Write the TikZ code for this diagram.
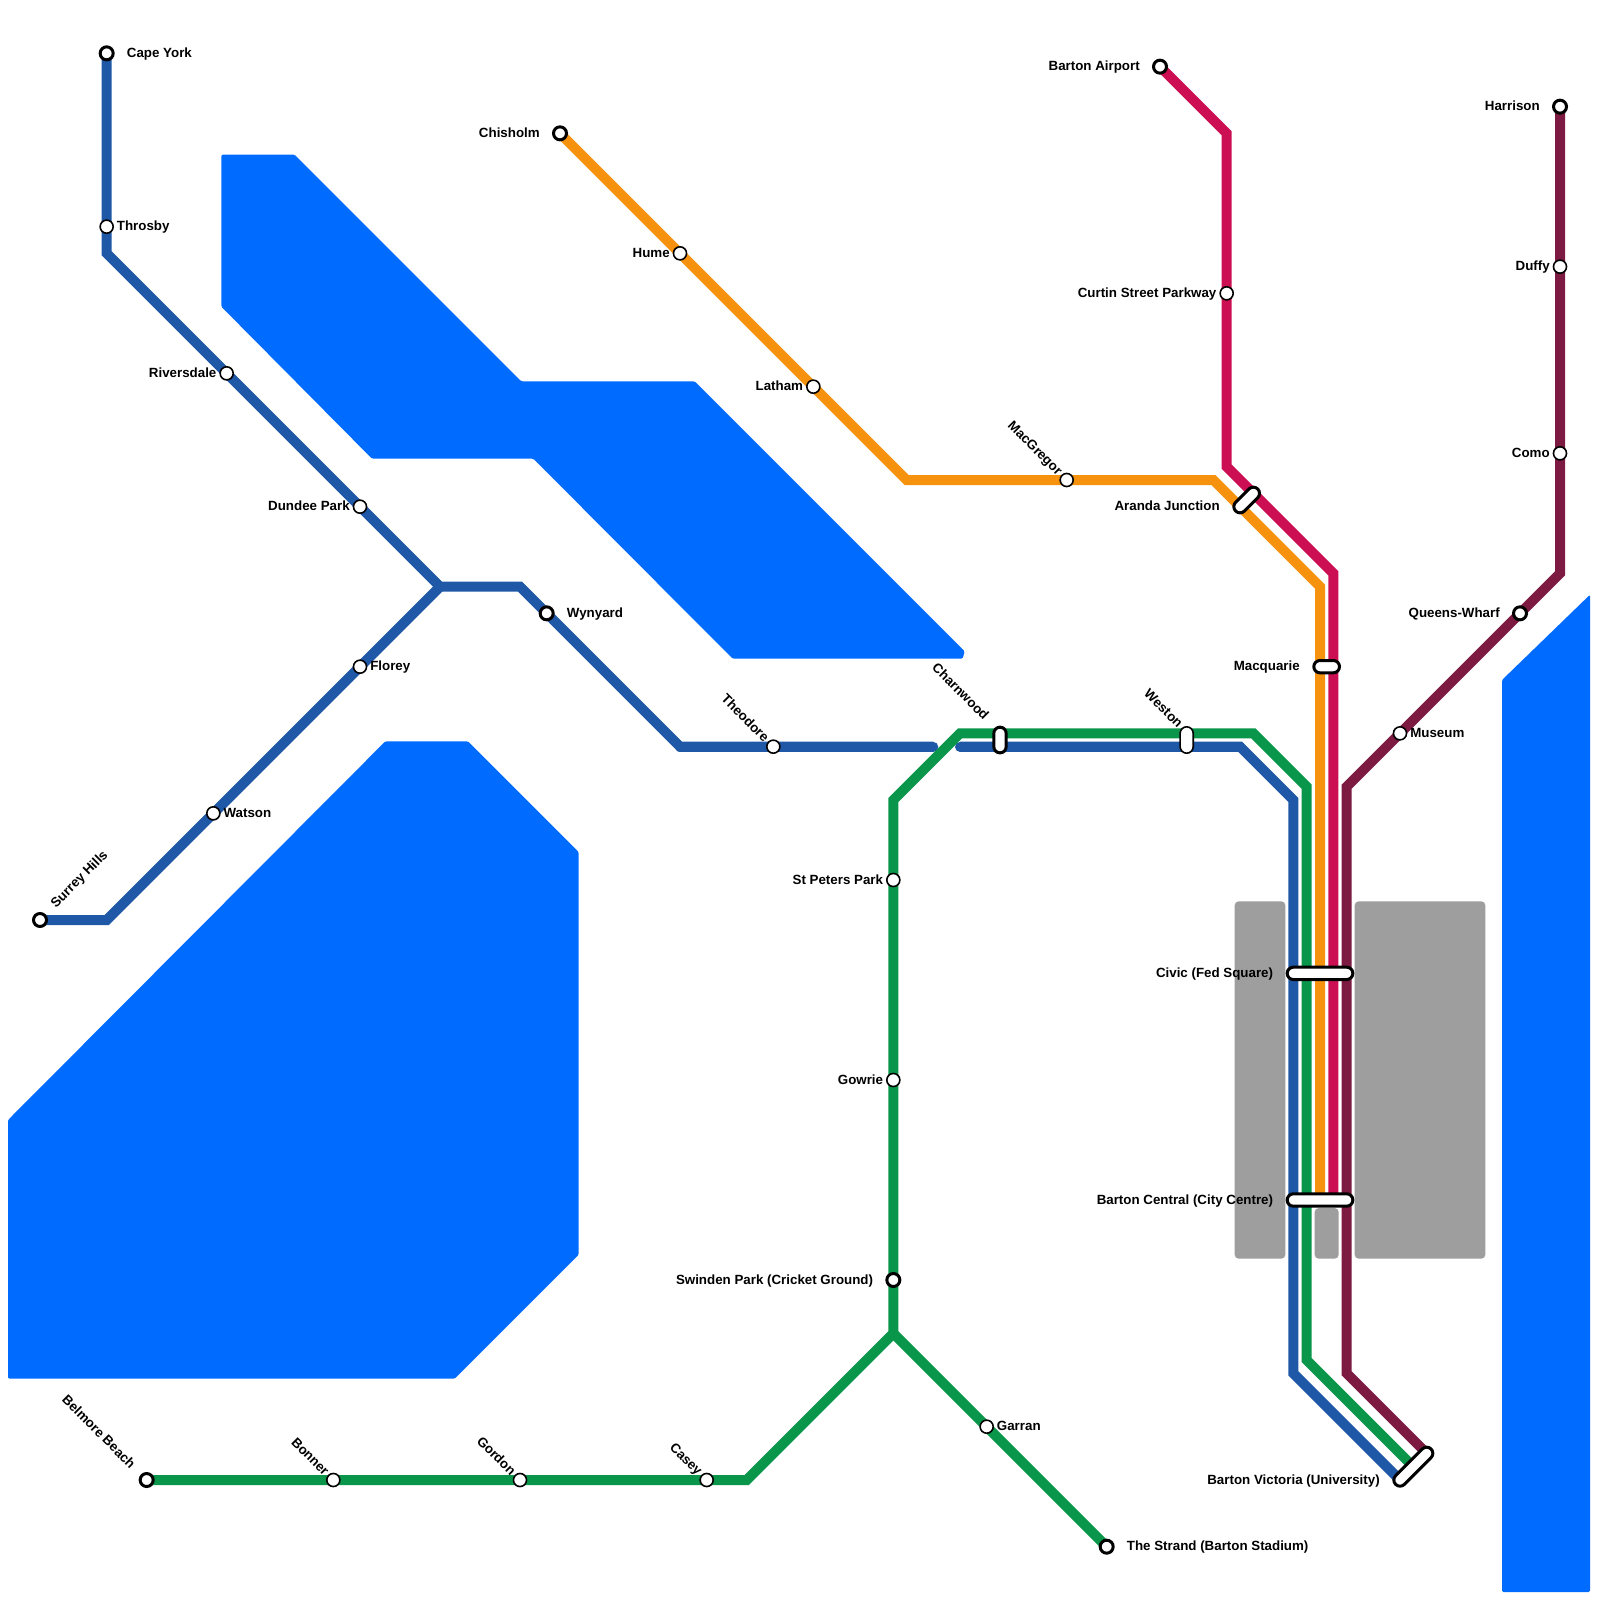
\documentclass[tikz,border=0pt]{standalone}
\usepackage{fontspec}
\setmainfont{Liberation Sans}[BoldFont={Liberation Sans Bold}]
\usetikzlibrary{calc}
\pgfdeclarelayer{bg}\pgfdeclarelayer{lines}
\pgfsetlayers{bg,lines,main}
\definecolor{wat}{HTML}{006CFF}
\definecolor{gry}{HTML}{9E9E9E}
\definecolor{lblue}{HTML}{1F58A6}
\definecolor{lgreen}{HTML}{0A964A}
\definecolor{lorange}{HTML}{F7920F}
\definecolor{lred}{HTML}{CC0F52}
\definecolor{lpurple}{HTML}{7C1A42}
\tikzset{
 water/.style={fill=wat,draw=none,rounded corners=1pt},
 land/.style={fill=gry,draw=none,rounded corners=3pt},
 route/.style={line width=7.5pt,miter limit=10},
 stn/.style={circle,draw=black,fill=white,line width=1.2pt,inner sep=0pt,minimum size=9.8pt},
 term/.style={circle,draw=black,fill=white,line width=2.25pt,inner sep=0pt,minimum size=9.75pt},
 pillb/.style={draw=black,fill=white,line width=2.25pt,inner sep=0pt,rounded corners=4.6pt,minimum height=9.25pt},
 pillt/.style={draw=black,fill=white,line width=1.2pt,inner sep=0pt,rounded corners=4.9pt,minimum height=9.8pt},
 txt/.style={inner sep=0pt,font=\fontsize{10pt}{11pt}\selectfont\bfseries,text=black},
 lr/.style={txt,anchor=mid west,yshift=-.4pt},
 ll/.style={txt,anchor=mid east,yshift=-.4pt},
 lup/.style={txt,anchor=mid west,rotate=45},
 ldn/.style={txt,anchor=mid east,rotate=-45,xshift=.5pt,yshift=-.5pt},
}
\begin{document}
\begin{tikzpicture}[x=10pt,y=-10pt]
\useasboundingbox (0,0) rectangle (120,120);
\begin{pgfonlayer}{bg}
\fill[white] (0,0) rectangle (120,120);
\path[water] (16.6,11.6) -- (22.1,11.6) -- (39.1,28.6) -- (52.1,28.6) -- (72.35,48.85) -- (72.2,49.4) -- (54.95,49.4) -- (40,34.4) -- (27.9,34.4) -- (16.6,23) -- cycle;
\path[water] (28.9,55.6) -- (35.1,55.6) -- (43.4,63.9) -- (43.4,94.1) -- (34.1,103.4) -- (0.6,103.4) -- (0.6,84) -- cycle;
\path[water] (112.65,51) -- (119.25,44.6) -- (119.25,119.4) -- (112.65,119.4) -- cycle;
\path[land] (92.6,67.6) rectangle (96.4,94.4);
\path[land] (98.6,90.6) rectangle (100.4,94.4);
\path[land] (101.6,67.6) rectangle (111.4,94.4);
\end{pgfonlayer}

% stations
\node[term] (capeyork) at (8,4) {};
\node[stn] (throsby) at (8,17) {};
\node[stn] (riversdale) at (17,28) {};
\node[stn] (dundee) at (27,38) {};
\node[stn] (florey) at (27,50) {};
\node[stn] (watson) at (16,61) {};
\node[term] (surrey) at (3,69) {};
\node[term] (wynyard) at (41,46) {};
\node[stn] (theodore) at (58,56) {};
\node[term] (belmore) at (11,111) {};
\node[stn] (bonner) at (25,111) {};
\node[stn] (gordon) at (39,111) {};
\node[stn] (casey) at (53,111) {};
\node[stn] (stpeters) at (67,66) {};
\node[stn] (gowrie) at (67,81) {};
\node[term] (swinden) at (67,96) {};
\node[stn] (garran) at (74,107) {};
\node[term] (strand) at (83,116) {};
\node[term] (chisholm) at (42,10) {};
\node[stn] (hume) at (51,19) {};
\node[stn] (latham) at (61,29) {};
\node[stn] (macgregor) at (80,36) {};
\node[term] (airport) at (87,5) {};
\node[stn] (curtin) at (92,22) {};
\node[term] (harrison) at (117,8) {};
\node[stn] (duffy) at (117,20) {};
\node[stn] (como) at (117,34) {};
\node[term] (queens) at (114,46) {};
\node[stn] (museum) at (105,55) {};
\node[pillb,minimum width=9.25pt+14.14pt,rotate=45] (aranda) at (93.5,37.5) {};
\node[pillb,minimum width=9.25pt+10pt] (macquarie) at (99.5,50) {};
\node[pillb,minimum width=9.25pt+10pt,rotate=90] (charnwood) at (75,55.5) {};
\node[pillt,minimum width=9.8pt+10pt,rotate=90] (weston) at (89,55.5) {};
\node[pillb,minimum width=9.25pt+40pt] (civic) at (99,73) {};
\node[pillb,minimum width=9.25pt+40pt] (central) at (99,90) {};
\node[pillb,minimum width=9.25pt+28.28pt,rotate=45] (victoria) at (106,110) {};

% waypoints
\foreach \n/\p in {a/{8,19},b/{33,44},c/{39,44},d/{51,56},e/{70,56},f/{72,56},g/{93,56},h/{97,60},i/{97,103},j/{105,111},k/{8,69},
 m/{56,111},n/{67,100},o/{67,60},p/{72,55},q/{94,55},r/{98,59},s/{98,102},t/{106,110},
 u/{68,36},v/{91,36},w/{99,44},x/{99,90},
 y/{92,10},z/{92,35},aa/{100,43},ab/{100,90},
 ac/{117,43},ad/{101,59},ae/{101,103},af/{107,109}}
 {\coordinate (w\n) at (\p);}

\begin{pgfonlayer}{lines}
\draw[route,lblue] (capeyork.center) -- (throsby.center) -- (wa) -- (riversdale.center) -- (dundee.center) -- (wb) -- (wc) -- (wynyard.center) -- (wd) -- (theodore.center) -- (we);
\draw[route,lblue,line cap=round] (wd) -- (we);
\draw[route,lblue,line cap=round] (wf) -- (wg);
\draw[route,lblue] (wf) -- (wg) -- (wh) -- (wi) -- (wj);
\draw[route,lblue] (surrey.center) -- (wk) -- (watson.center) -- (florey.center) -- (wb);
\draw[route,lpurple] (harrison.center) -- (duffy.center) -- (como.center) -- (wac) -- (queens.center) -- (museum.center) -- (wad) -- (wae) -- (waf);
\draw[route,lgreen] (belmore.center) -- (bonner.center) -- (gordon.center) -- (casey.center) -- (wm) -- (wn) -- (swinden.center) -- (gowrie.center) -- (stpeters.center) -- (wo) -- (wp) -- (wq) -- (wr) -- (ws) -- (wt);
\draw[route,lgreen] (wn) -- (garran.center) -- (strand.center);
\draw[route,lorange] (chisholm.center) -- (hume.center) -- (latham.center) -- (wu) -- (macgregor.center) -- (wv) -- (ww) -- (wx);
\draw[route,lred] (airport.center) -- (wy) -- (curtin.center) -- (wz) -- (waa) -- (wab);
\end{pgfonlayer}

% labels
\node[lr] (tcape) at (9.5,4) {Cape York};
\node[lr] (tthrosby) at (8.75,17) {Throsby};
\node[ll] (trivers) at (16.25,28) {Riversdale};
\node[ll] (tdundee) at (26.25,38) {Dundee Park};
\node[lr] (tflorey) at (27.75,50) {Florey};
\node[lr] (twatson) at (16.75,61) {Watson};
\node[lup] (tsurrey) at (4,67.95) {Surrey Hills};
\node[lr] (twyn) at (42.5,46) {Wynyard};
\node[ldn] (ttheo) at (57.47,55.47) {Theodore};
\node[ldn] (tbel) at (9.95,109.95) {Belmore Beach};
\node[ldn] (tbon) at (24.47,110.47) {Bonner};
\node[ldn] (tgor) at (38.47,110.47) {Gordon};
\node[ldn] (tcas) at (52.47,110.47) {Casey};
\node[ll] (tstp) at (66.25,66) {St Peters Park};
\node[ll] (tgow) at (66.25,81) {Gowrie};
\node[ll] (tswi) at (65.5,96) {Swinden Park (Cricket Ground)};
\node[lr] (tgar) at (74.75,107) {Garran};
\node[lr] (tstr) at (84.5,116) {The Strand (Barton Stadium)};
\node[ll] (tchi) at (40.5,10) {Chisholm};
\node[ll] (thum) at (50.25,19) {Hume};
\node[ll] (tlat) at (60.25,29) {Latham};
\node[ldn] (tmac) at (79.47,35.47) {MacGregor};
\node[ldn] (tcha) at (73.95,53.8) {Charnwood};
\node[ldn] (twes) at (88.5,54.4) {Weston};
\node[ll] (tair) at (85.5,5) {Barton Airport};
\node[ll] (tcur) at (91.25,22) {Curtin Street Parkway};
\node[ll] (tara) at (91.5,38) {Aranda Junction};
\node[ll] (tmcq) at (97.5,50) {Macquarie};
\node[ll] (tciv) at (95.5,73) {Civic (Fed Square)};
\node[ll] (tcen) at (95.5,90) {Barton Central (City Centre)};
\node[ll] (tvic) at (103.5,111) {Barton Victoria (University)};
\node[ll] (thar) at (115.5,8) {Harrison};
\node[ll] (tduf) at (116.25,20) {Duffy};
\node[ll] (tcom) at (116.25,34) {Como};
\node[ll] (tque) at (112.5,46) {Queens-Wharf};
\node[lr] (tmus) at (105.75,55) {Museum};
\end{tikzpicture}
\end{document}
